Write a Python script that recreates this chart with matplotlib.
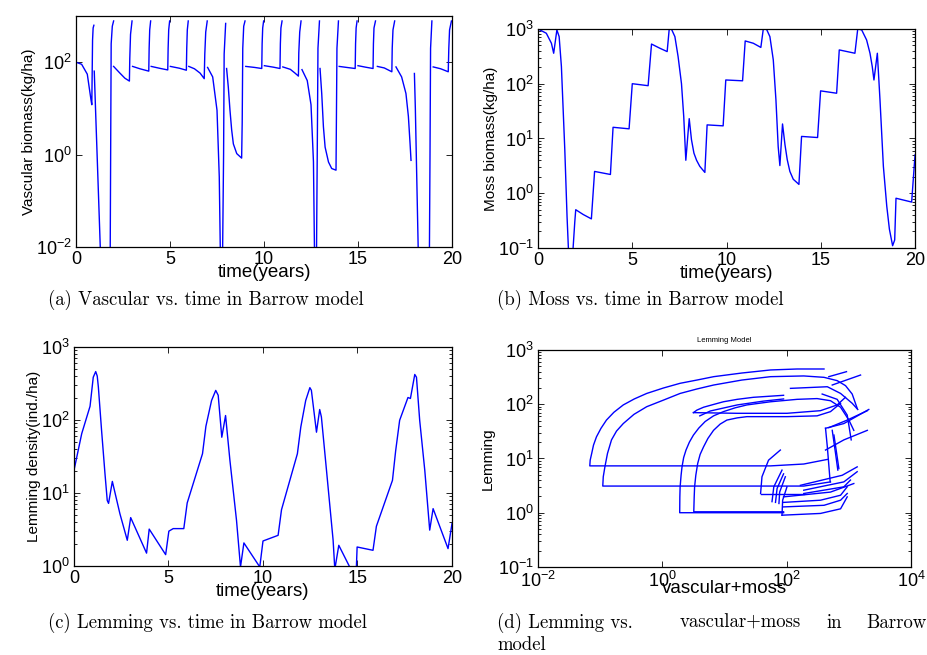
import numpy as np
import matplotlib
matplotlib.use("Agg")
import matplotlib.pyplot as plt
from matplotlib.ticker import LogLocator, NullLocator

# vascular biomass, one piece per growing season (kg/ha)
vasc_t = [
    [0.0, 0.3, 0.6, 0.8, 0.84, 0.86, 0.88, 0.91, 0.95],
    [0.97, 1.05, 1.13, 1.21, 1.29, 1.35, 1.8, 1.82, 1.85, 1.87, 1.93, 2.0],
    [2.0, 2.3, 2.6, 2.84, 2.86, 2.9, 2.98],
    [3.01, 3.4, 3.87, 3.89, 3.92, 3.97],
    [4.0, 4.5, 4.88, 4.9, 4.93, 4.98],
    [5.02, 5.5, 5.87, 5.89, 5.92, 5.97],
    [6.0, 6.3, 6.6, 6.82, 6.85, 6.9, 6.98],
    [7.0, 7.27, 7.5, 7.62, 7.67, 7.72, 7.78, 7.8, 7.85, 7.88, 7.96],
    [8.01, 8.1, 8.19, 8.28, 8.37, 8.55, 8.81, 8.84, 8.87, 8.92, 8.99],
    [9.03, 9.5, 9.88, 9.9, 9.93, 9.98],
    [10.02, 10.5, 10.85, 10.87, 10.9, 10.96],
    [11.0, 11.4, 11.65, 11.83, 11.85, 11.9, 11.97],
    [12.02, 12.3, 12.5, 12.63, 12.68, 12.72, 12.78, 12.8, 12.84, 12.87, 12.95],
    [12.98, 13.07, 13.16, 13.25, 13.43, 13.6, 13.83, 13.85, 13.88, 13.96],
    [14.0, 14.4, 14.85, 14.87, 14.9, 14.95],
    [15.0, 15.4, 15.8, 15.82, 15.85, 15.93],
    [16.03, 16.4, 16.8, 16.82, 16.86, 16.95],
    [17.02, 17.32, 17.55, 17.68, 17.77, 17.82],
    [18.0, 18.05, 18.1, 18.15, 18.2, 18.25, 18.78, 18.8, 18.83, 18.86, 18.93],
    [19.0, 19.4, 19.8, 19.83, 19.87, 19.97],
]
vasc_v = [
    [100, 90, 55, 15, 12, 60, 300, 550, 630],
    [64, 7, 0.8, 0.09, 0.01, 0.001, 0.001, 0.01, 5, 250, 600, 780],
    [81, 60, 45, 39, 120, 400, 780],
    [81, 72, 64, 200, 500, 780],
    [81, 73, 68, 200, 500, 780],
    [81, 74, 67, 200, 500, 780],
    [81, 72, 58, 44, 150, 450, 780],
    [77, 48, 9.1, 0.33, 0.012, 0.001, 0.001, 0.01, 1, 150, 690],
    [73, 29, 9.1, 3.4, 1.7, 1.05, 0.84, 5, 200, 600, 780],
    [81, 77, 73, 250, 550, 780],
    [84, 78, 73, 250, 550, 780],
    [79, 70, 58, 50, 160, 450, 780],
    [69, 40, 12, 0.7, 0.012, 0.001, 0.001, 0.02, 3, 200, 780],
    [73, 21, 4, 1.45, 0.69, 0.5, 0.46, 5, 200, 780],
    [81, 77, 73, 250, 550, 780],
    [84, 78, 73, 250, 550, 780],
    [81, 75, 62, 200, 500, 780],
    [79, 48, 21, 6.7, 1.7, 0.75],
    [57, 10, 1, 0.1, 0.01, 0.001, 0.001, 0.01, 1, 200, 780],
    [79, 72, 62, 200, 500, 780],
]

# moss biomass (kg/ha)
moss_t = [0.0, 0.44, 0.71, 0.83, 1.0, 1.12, 1.24, 1.42, 1.54, 1.61, 1.72, 1.86,
          1.95, 2.0, 2.39, 2.83, 3.0, 3.84, 3.98, 4.83, 5.0, 5.84, 6.02, 6.46,
          6.85, 6.96, 7.08, 7.26, 7.43, 7.61, 7.73, 7.84, 8.02, 8.14, 8.27,
          8.41, 8.58, 8.85, 8.97, 9.82, 9.96, 10.85, 10.99, 11.42, 11.82,
          11.95, 12.12, 12.3, 12.48, 12.62, 12.74, 12.83, 12.97, 13.1, 13.22,
          13.36, 13.54, 13.84, 13.98, 14.83, 14.99, 15.84, 15.98, 16.81, 16.96,
          17.17, 17.43, 17.61, 17.73, 17.82, 18.0, 18.14, 18.32, 18.5, 18.64,
          18.81, 18.92, 18.99, 19.82, 20.0]
moss_v = [1000, 834, 548, 360, 960, 725, 206, 6.2, 0.37, 0.1, 0.03, 0.1,
          0.3, 0.5, 0.41, 0.34, 2.5, 2.2, 16, 15, 100, 92, 530, 445,
          386, 1000, 990, 725, 313, 100, 25, 4.0, 23, 9.5, 5.4,
          4.0, 3.1, 2.4, 17.7, 17, 117, 113, 604, 548, 460,
          1000, 990, 725, 272, 51, 7.1, 3.2, 18.4, 7.7, 4.1,
          2.5, 1.8, 1.45, 10.9, 10.4, 74, 67, 414, 360, 1000,
          960, 630, 360, 206, 117, 360, 51, 3.1, 0.58, 0.22,
          0.11, 0.14, 0.81, 0.69, 5.0]

# lemming density (ind./ha)
lem_t = [0.0, 0.41, 0.85, 1.02, 1.15, 1.23, 1.29, 1.46, 1.64, 1.76, 1.83, 2.03,
         2.43, 2.82, 3.0, 3.84, 3.98, 4.85, 5.02, 5.25, 5.81, 5.99, 6.8, 6.98,
         7.28, 7.5, 7.63, 7.82, 8.02, 8.25, 8.6, 8.81, 8.99, 9.83, 10.0, 10.8,
         10.98, 11.82, 12.0, 12.26, 12.48, 12.56, 12.83, 13.0, 13.09, 13.36,
         13.71, 13.8, 14.01, 14.75, 14.93, 14.98, 15.82, 16.0, 16.85, 17.02,
         17.23, 17.67, 17.8, 18.03, 18.12, 18.29, 18.56, 18.82, 19.0, 19.79, 20.0]
lem_v = [20.4, 65, 154, 385, 460, 400, 283, 72, 18.4, 7.9, 7.2, 14.4,
         5.2, 2.25, 4.6, 1.5, 3.2, 1.43, 3.0, 3.25, 3.25, 7.3, 34.5, 82,
         185, 254, 218, 58, 115, 28, 4.2, 0.97, 2.07, 0.97, 2.2, 2.63,
         5.9, 34.5, 80, 185, 277, 255, 68, 139, 110, 20.4,
         2.25, 0.9, 1.92, 0.8, 0.8, 1.82, 1.64, 3.5, 14.9, 38,
         99, 203, 197, 420, 385, 99, 20.4, 3.1, 6.1, 1.73, 3.8]

# phase curves: total plant biomass vs lemming density
phase_x = [
    [450, 188, 55, 0.068, 0.069, 0.073, 0.078, 0.087, 0.103, 0.126, 0.166,
     0.235, 0.353, 0.56, 1.04, 1.93, 3.6, 6.7, 19, 55, 147, 398],
    [506, 188, 0.11, 0.112, 0.119, 0.131, 0.152, 0.183, 0.235, 0.349, 0.56,
     1.04, 1.93, 3.6, 6.7, 19, 55, 188, 398, 648, 883, 1130, 1360],
    [89, 1.9, 1.91, 1.93, 2.0, 2.07, 2.2, 2.4, 2.72, 3.16, 3.85, 4.88, 6.65,
     9.6, 14.9, 22.9, 55, 147, 308, 506, 735, 1000, 1200],
    [89, 3.2, 3.25, 3.3, 3.45, 3.7, 4.05, 4.6, 5.4, 6.65, 8.5, 10.9, 16,
     22.9, 101, 308, 506, 735],
    [3.16, 3.6, 4.6, 6.65, 9.6, 16, 29, 89],
    [3.16, 16, 101, 349, 648, 880],
    [4.0, 5.9, 16, 42, 89],
    [540, 1540],
    [476, 915],
    [372, 648, 940, 1090],
    [115, 450, 735, 1130, 1390],
    [421, 830, 2090],
    [476, 940, 1980],
    [421, 830, 1980],
    [421, 450, 500],
    [540, 610, 664],
    [575, 648, 690],
    [38, 40, 51, 79],
    [38, 188],
    [58, 62, 84],
    [66, 70, 89],
    [75, 77, 95],
    [84, 86, 101],
    [89, 349, 735, 940],
    [89, 398, 735, 940],
    [84, 349, 735, 940],
    [166, 781, 1360],
    [188, 830, 1360],
    [89, 506, 1200],
    [188, 830, 1060],
]
phase_y = [
    [9.6, 7.9, 7.3, 7.3, 9.3, 12.4, 17.6, 25, 36, 51, 71,
     97, 125, 158, 199, 243, 279, 322, 376, 428, 446, 446],
    [3.7, 3.1, 3.1, 4.6, 7.0, 12.4, 22, 32, 44, 65, 90,
     119, 158, 191, 226, 279, 322, 332, 313, 272, 220, 154, 84],
    [1.0, 1.0, 1.96, 3.0, 4.9, 7.0, 10.4, 14.3, 20, 27, 36.3, 48, 61,
     73, 86, 97, 111, 123, 127, 116, 88, 51, 33],
    [1.04, 1.04, 1.96, 3.0, 4.9, 8.1, 11.9, 16.4, 23.4, 33, 43, 51, 56,
     59, 59, 61, 73, 104],
    [70, 78, 88, 99, 111, 123, 134, 146],
    [70, 68, 68, 76, 97, 134],
    [61, 75, 97, 114, 125],
    [226, 345],
    [322, 398],
    [154, 123, 63, 22],
    [196, 210, 158, 104, 80],
    [36, 44, 80],
    [37, 51, 76],
    [14.3, 22, 33],
    [36, 16.4, 3.7],
    [33, 12.4, 6.1],
    [27, 10.7, 6.5],
    [2.26, 4.6, 9.3, 14.3],
    [2.26, 2.26],
    [1.6, 3.0, 6.1],
    [1.55, 2.8, 5.2],
    [1.48, 2.4, 4.6],
    [0.9, 1.7, 3.0],
    [1.55, 1.7, 2.1, 3.0],
    [1.28, 1.37, 1.7, 2.26],
    [0.9, 0.97, 1.18, 1.96],
    [3.2, 4.9, 7.0],
    [2.6, 3.7, 5.7],
    [1.96, 2.4, 3.45],
    [2.26, 3.0, 4.0],
]

captions = ["(a) Vascular vs. time in Barrow model",
            "(b) Moss vs. time in Barrow model",
            "(c) Lemming vs. time in Barrow model"]
# the (d) caption is set justified, so its pieces are placed one by one
caption_d = ["(d) Lemming vs.", "vascular+moss", "in", "Barrow"]
caption_d_x = [497, 680, 826, 927]

plt.rcParams["font.family"] = ["Liberation Sans", "DejaVu Sans"]
plt.rcParams["mathtext.fontset"] = "custom"
plt.rcParams["mathtext.rm"] = "Liberation Sans"
plt.rcParams["mathtext.it"] = "Liberation Sans:italic"

LINE = dict(color="#0000ff", lw=1.0)
TICK_FS = 13
XLAB_FS = 13.5
YLAB_FS = 11


def style_axis(ax, minor=True):
    ax.tick_params(which="both", direction="in", top=True, right=True,
                   labelsize=TICK_FS, width=0.6, colors="black", pad=3)
    ax.tick_params(which="major", length=4)
    ax.tick_params(which="minor", length=2)
    for sp in ax.spines.values():
        sp.set_linewidth(0.9)
    if not minor:
        ax.yaxis.set_minor_locator(NullLocator())


fig = plt.figure(figsize=(9.27, 6.55), dpi=100)

# (a) vascular biomass vs time
ax_a = fig.add_axes([0.082, 0.6229, 0.4056, 0.3527])
for t, v in zip(vasc_t, vasc_v):
    ax_a.plot(t, v, **LINE)
ax_a.set_yscale("log")
ax_a.set_xlim(0, 20)
ax_a.set_ylim(1e-2, 1e3)
ax_a.set_yticks([1e-2, 1e0, 1e2])
ax_a.set_xticks([0, 5, 10, 15, 20])
style_axis(ax_a, minor=False)
ax_a.set_xlabel("time(years)", fontsize=XLAB_FS, labelpad=-3)
ax_a.set_ylabel("Vascular biomass(kg/ha)", fontsize=YLAB_FS, labelpad=0)

# (b) moss biomass vs time
ax_b = fig.add_axes([0.5804, 0.6214, 0.4067, 0.3344])
ax_b.plot(moss_t, moss_v, **LINE)
ax_b.set_yscale("log")
ax_b.set_xlim(0, 20)
ax_b.set_ylim(1e-1, 1e3)
ax_b.set_xticks([0, 5, 10, 15, 20])
ax_b.yaxis.set_major_locator(LogLocator(base=10, numticks=10))
style_axis(ax_b)
ax_b.set_xlabel("time(years)", fontsize=XLAB_FS, labelpad=-3)
ax_b.set_ylabel("Moss biomass(kg/ha)", fontsize=YLAB_FS, labelpad=0)

# (c) lemming density vs time
ax_c = fig.add_axes([0.0798, 0.1359, 0.4078, 0.3344])
ax_c.plot(lem_t, lem_v, **LINE)
ax_c.set_yscale("log")
ax_c.set_xlim(0, 20)
ax_c.set_ylim(1e0, 1e3)
ax_c.set_xticks([0, 5, 10, 15, 20])
style_axis(ax_c)
ax_c.set_xlabel("time(years)", fontsize=XLAB_FS, labelpad=-3)
ax_c.set_ylabel("Lemming density(ind./ha)", fontsize=YLAB_FS, labelpad=0)

# (d) phase plane
ax_d = fig.add_axes([0.5804, 0.1344, 0.4024, 0.3313])
for x, y in zip(phase_x, phase_y):
    ax_d.plot(x, y, **LINE)
ax_d.set_xscale("log")
ax_d.set_yscale("log")
ax_d.set_xlim(1e-2, 1e4)
ax_d.set_ylim(1e-1, 1e3)
ax_d.set_xticks([1e-2, 1e0, 1e2, 1e4])
ax_d.xaxis.set_minor_locator(NullLocator())
ax_d.yaxis.set_major_locator(LogLocator(base=10, numticks=10))
style_axis(ax_d)
ax_d.set_xlabel("vascular+moss", fontsize=XLAB_FS, labelpad=-8)
ax_d.set_ylabel("Lemming", fontsize=YLAB_FS, labelpad=2)
ax_d.set_title("Lemming Model", fontsize=5.5, pad=6)

# sub-figure captions
cap_kw = dict(family="cmr10", fontsize=13.5, va="center", ha="left")
fig.text(48 / 927, 1 - 300 / 655, captions[0], **cap_kw)
fig.text(497 / 927, 1 - 300 / 655, captions[1], **cap_kw)
fig.text(48 / 927, 1 - 623 / 655, captions[2], **cap_kw)
for word, px in zip(caption_d[:-1], caption_d_x[:-1]):
    fig.text(px / 927, 1 - 623 / 655, word, **cap_kw)
fig.text(caption_d_x[-1] / 927, 1 - 623 / 655, caption_d[-1],
         **{**cap_kw, "ha": "right"})
fig.text(497 / 927, 1 - 645 / 655, "model", **cap_kw)

fig.savefig("out.png", dpi=100)
